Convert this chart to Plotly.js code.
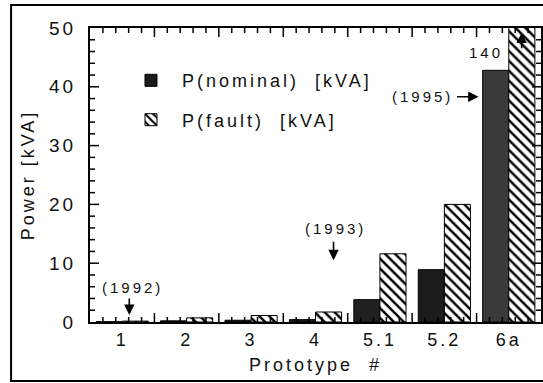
<!DOCTYPE html>
<html><head><meta charset="utf-8">
<script src="https://cdn.plot.ly/plotly-3.0.1.min.js"></script>
<style>
body{margin:0;background:#fff}
#chart{width:543px;height:383px}
svg text{letter-spacing:3px}
.legendbar{transform:scale(1.8,1.65)}
</style></head><body><div id="chart"></div>
<script>
// data
const categories = ['1','2','3','4','5.1','5.2','6a'];
const pNominal = [0.05, 0.2, 0.3, 0.4, 3.8, 8.9, 42.8];
const pFault = [0.15, 0.7, 1.1, 1.7, 11.6, 20.0, 140];
const nominalName = 'P(nominal)\u00a0\u00a0[kVA]';
const faultName = 'P(fault)\u00a0\u00a0[kVA]';
// annotation labels with arrow tip (data) and text offset / arrow tail (pixels)
const notes = [
  {label: '(1992)', x: 0.11, y: 1.2, tx: 3, ty: -27, ax: 0, ay: -19},
  {label: '(1993)', x: 3.28, y: 10.5, tx: 2, ty: -32, ax: 0, ay: -21},
  {label: '(1995)', x: 5.53, y: 38.3, tx: -56, ty: 0, ax: -25, ay: 0},
  {label: '140', x: 6.2, y: 49.2, tx: -36, ty: 20, ax: 0, ay: 18}
];

const font = {family: 'Liberation Sans, Arial, Helvetica, sans-serif', color: '#111'};
const f = s => Object.assign({size: s}, font);

const traces = [
  {type: 'bar', x: categories, y: pNominal, name: nominalName, legendgroup: 'a',
   marker: {color: ['#1a1a1a','#1a1a1a','#1a1a1a','#1a1a1a','#202020','#1c1c1c','#3a3a3a'],
            line: {color: '#000', width: 1}}},
  {type: 'bar', x: categories, y: pFault, name: faultName, legendgroup: 'b',
   marker: {color: '#fff', line: {color: '#000', width: 1},
            pattern: {shape: '\\', size: 7, solidity: 0.35, fgcolor: '#000', bgcolor: '#fff'}}},
  // invisible helper trace (mode none) so the linear tick axis x2 exists
  {type: 'scatter', x: categories.map((c, i) => i), y: pNominal, xaxis: 'x2', yaxis: 'y',
   mode: 'none', showlegend: false, hoverinfo: 'skip'}
];

const annotations = [];
notes.forEach(n => {
  annotations.push({x: n.x, y: n.y, xref: 'x', yref: 'y', text: ' ', font: f(2), showarrow: true,
    ax: n.ax, ay: n.ay, arrowhead: 2, arrowsize: 1.3, arrowwidth: 1.6, arrowcolor: '#000', standoff: 0});
  annotations.push({x: n.x, y: n.y, xref: 'x', yref: 'y', text: n.label, showarrow: false,
    xshift: n.tx, yshift: -n.ty, font: f(15)});
});

// tick marks (inside, on all four sides), built as shapes from the axis steps
const tickLine = {color: '#000', width: 1.5};
const shapes = [{type: 'rect', xref: 'paper', yref: 'paper', x0: -0.175, x1: 1.06, y0: -0.2007, y1: 1.078,
                 line: {color: '#000', width: 2}, fillcolor: 'rgba(0,0,0,0)'}];
for (let k = 1; k < 25; k++) {               // y ticks every 2 kVA, long every 10
  const v = 2 * k, len = (k % 5 === 0) ? 9 : 5;
  shapes.push({type: 'line', xref: 'paper', xsizemode: 'pixel', xanchor: 0, x0: 0, x1: len,
               yref: 'y', y0: v, y1: v, line: tickLine});
  shapes.push({type: 'line', xref: 'paper', xsizemode: 'pixel', xanchor: 1, x0: 0, x1: -len,
               yref: 'y', y0: v, y1: v, line: tickLine});
}
for (let k = 1; k < 35; k++) {               // x ticks every 1/5 category, long at category boundaries
  const v = -0.5 + k / 5, len = (k % 5 === 0) ? 9 : 5;
  shapes.push({type: 'line', xref: 'x2', x0: v, x1: v, yref: 'paper', ysizemode: 'pixel',
               yanchor: 0, y0: 0, y1: len, line: tickLine});
  shapes.push({type: 'line', xref: 'x2', x0: v, x1: v, yref: 'paper', ysizemode: 'pixel',
               yanchor: 1, y0: 0, y1: -len, line: tickLine});
}

const layout = {
  width: 543, height: 383,
  margin: {l: 90, r: 2, t: 28, b: 61},
  font: f(18),
  barmode: 'group', bargap: 0.19, bargroupgap: 0,
  showlegend: true,
  legend: {x: 0.0665, y: 0.884, xanchor: 'left', yanchor: 'top', bgcolor: 'rgba(0,0,0,0)',
           traceorder: 'grouped', tracegroupgap: 13, itemwidth: 52, font: f(18)},
  xaxis: {type: 'category', categoryorder: 'array', categoryarray: categories,
          range: [-0.5, 6.5], ticks: '', showline: true, linewidth: 2, linecolor: '#000',
          mirror: true, showgrid: false, zeroline: false, tickfont: f(18),
          title: {text: 'Prototype\u00a0\u00a0#', font: f(18), standoff: 10}},
  xaxis2: {overlaying: 'x', anchor: 'y', type: 'linear', range: [-0.5, 6.5], side: 'bottom',
           ticks: '', showticklabels: false, showline: false, showgrid: false, zeroline: false},
  yaxis: {range: [0, 50], dtick: 10, ticks: '',
          showline: true, linewidth: 2, linecolor: '#000', mirror: true, showgrid: false, zeroline: false,
          ticklabelstandoff: 8, tickfont: f(19),
          title: {text: 'Power\u00a0[kVA]', font: f(18), standoff: 10}},
  shapes: shapes,
  annotations: annotations
};

Plotly.newPlot('chart', traces, layout, {staticPlot: true});
</script></body></html>
